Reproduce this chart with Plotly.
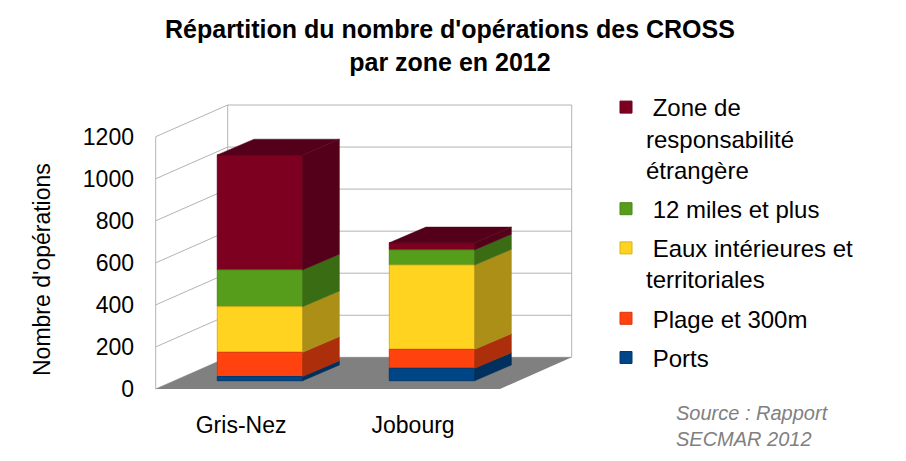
import plotly.graph_objects as go

# ---------------- data ----------------
categories = ["Gris-Nez", "Jobourg"]
series_names = ["Ports", "Plage et 300m", "Eaux intérieures et territoriales",
                "12 miles et plus", "Zone de responsabilité étrangère"]
legend_labels = ["\u00a0Ports", "\u00a0Plage et 300m",
                 "\u00a0Eaux intérieures et<br>territoriales",
                 "\u00a012 miles et plus",
                 "\u00a0Zone de<br>responsabilité<br>étrangère"]
ports = [20, 59]
plage = [115, 90]
eaux = [217, 401]
miles12 = [175, 72]
zone = [547, 34]
y_ticks = [0, 200, 400, 600, 800, 1000, 1200]
y_tick_labels = ["0", "200", "400", "600", "800", "1000", "1200"]

series_values = [ports, plage, eaux, miles12, zone]
front_colors = ["#004586", "#ff420e", "#ffd320", "#579d1c", "#7e0021"]
side_colors = ["#00305e", "#ad2e0a", "#ab8f17", "#3a6c14", "#55001a"]
edge_colors = ["#003a70", "#d9380c", "#d9b21b", "#4a8618", "#6b001c"]

# ---------------- pseudo-3D frame geometry (axis units) ----------------
L, R, T, B = 150, 576, 101, 391            # plot area in pixels
X_PX, X_ORIGIN = 172.0, 260.0              # px per category, px of category 0
Y_PX, Y_ORIGIN = 0.21025, 389.0            # px per unit, px of value 0 (front plane)
x_range = [(L - X_ORIGIN) / X_PX, (R - X_ORIGIN) / X_PX]
y_range = [(Y_ORIGIN - B) / Y_PX, (Y_ORIGIN - T) / Y_PX]

WALL_X0 = (155.7 - X_ORIGIN) / X_PX        # front-left edge of the box
WALL_X1 = (571.7 - X_ORIGIN) / X_PX        # right edge of the back wall
FLOOR_X1 = (500.0 - X_ORIGIN) / X_PX       # front-right corner of floor
DEPTH_X = 72.0 / X_PX
DEPTH_Y = 31.7 / Y_PX
TOP = max(y_ticks)

BAR_W = 85.4 / X_PX
BAR_BASE = 8.3 / Y_PX
BAR_DX = 36.7 / X_PX
BAR_DY = 15.7 / Y_PX

grid_col = "#b3b3b3"
shapes = []


def seg(x0, y0, x1, y1):
    shapes.append(dict(type="line", xref="x", yref="y", x0=x0, y0=y0, x1=x1, y1=y1,
                       line=dict(color=grid_col, width=1), layer="below"))


bx0 = WALL_X0 + DEPTH_X
for v in y_ticks:
    seg(WALL_X0, v, bx0, v + DEPTH_Y)
    seg(bx0, v + DEPTH_Y, WALL_X1, v + DEPTH_Y)
seg(WALL_X0, 0, WALL_X0, TOP)
seg(bx0, DEPTH_Y, bx0, TOP + DEPTH_Y)
seg(WALL_X1, DEPTH_Y, WALL_X1, TOP + DEPTH_Y)

floor_path = "M {a},{b} L {c},{b} L {d},{e} L {f},{e} Z".format(
    a=WALL_X0, b=0, c=FLOOR_X1, d=WALL_X1, e=DEPTH_Y, f=bx0)
shapes.append(dict(type="path", xref="x", yref="y", path=floor_path,
                   fillcolor="#808080", line=dict(width=0), layer="below"))

# ---------------- stacking ----------------
xs = list(range(len(categories)))
cum = [BAR_BASE] * len(categories)
bases = []
for vals in series_values:
    bases.append(list(cum))
    cum = [c + v for c, v in zip(cum, vals)]

fig = go.Figure()
# front faces (added top series first so the legend reads top -> bottom)
for k in reversed(range(len(series_values))):
    fig.add_trace(go.Bar(
        x=xs, y=series_values[k], base=bases[k], width=BAR_W,
        name=legend_labels[k], legendgroup=series_names[k],
        marker=dict(color=front_colors[k], line=dict(color=edge_colors[k], width=1)),
        hoverinfo="skip"))

# side and top faces
for k, vals in enumerate(series_values):
    for i in xs:
        xr = i + BAR_W / 2
        b0 = bases[k][i]
        t0 = b0 + vals[i]
        fig.add_trace(go.Scatter(
            x=[xr, xr + BAR_DX, xr + BAR_DX, xr, xr],
            y=[b0, b0 + BAR_DY, t0 + BAR_DY, t0, b0],
            fill="toself", fillcolor=side_colors[k], mode="lines",
            line=dict(color=side_colors[k], width=0.5),
            showlegend=False, hoverinfo="skip"))
        if k == len(series_values) - 1:
            xl = i - BAR_W / 2
            fig.add_trace(go.Scatter(
                x=[xl, xl + BAR_DX, xr + BAR_DX, xr, xl],
                y=[t0, t0 + BAR_DY, t0 + BAR_DY, t0, t0],
                fill="toself", fillcolor=side_colors[k], mode="lines",
                line=dict(color=side_colors[k], width=0.5),
                showlegend=False, hoverinfo="skip"))

FONT = "Liberation Sans, Arial, sans-serif"
PW, PH = R - L, B - T
fig.update_layout(
    width=906, height=461,
    margin=dict(l=L, r=906 - R, t=T, b=461 - B, autoexpand=False),
    paper_bgcolor="white", plot_bgcolor="white",
    barmode="overlay", hovermode=False,
    font=dict(family=FONT, size=23, color="black"),
    xaxis=dict(range=x_range, tickvals=[i - 0.11 for i in xs], ticktext=categories,
               showgrid=False, zeroline=False, showline=False, ticks="",
               ticklabelstandoff=18, fixedrange=True, automargin=False,
               tickfont=dict(family=FONT, size=23, color="black")),
    yaxis=dict(range=y_range, tickvals=y_ticks, ticktext=y_tick_labels,
               showgrid=False, zeroline=False, showline=False, ticks="",
               ticklabelstandoff=15, fixedrange=True, automargin=False,
               tickfont=dict(family=FONT, size=23, color="black")),
    legend=dict(x=606 / 906, xref="container", xanchor="left",
                y=1 - 85 / 461, yref="container", yanchor="top",
                traceorder="grouped", tracegroupgap=5, valign="top",
                maxheight=420,
                font=dict(family=FONT, size=24, color="black"),
                bgcolor="rgba(0,0,0,0)"),
    shapes=shapes,
    annotations=[
        dict(text="<b>Répartition du nombre d'opérations des CROSS<br>par zone en 2012</b>",
             xref="paper", yref="paper", x=(450 - L) / PW, y=(B - 13) / PH,
             xanchor="center", yanchor="top", align="center", showarrow=False,
             font=dict(family=FONT, size=25, color="black")),
        dict(text="Nombre d'opérations", xref="paper", yref="paper",
             x=(42 - L) / PW, y=(B - 270) / PH, textangle=-90,
             xanchor="center", yanchor="middle",
             showarrow=False, font=dict(family=FONT, size=23, color="black")),
        dict(text="<i>Source : Rapport<br>SECMAR 2012</i>", xref="paper", yref="paper",
             x=(674 - L) / PW, y=(B - 400) / PH, xanchor="left", yanchor="top",
             align="left", showarrow=False,
             font=dict(family=FONT, size=20, color="#808080")),
    ],
)

fig.write_html("out.html", config={"displayModeBar": False},
               post_script="document.body.style.margin='0px';")
